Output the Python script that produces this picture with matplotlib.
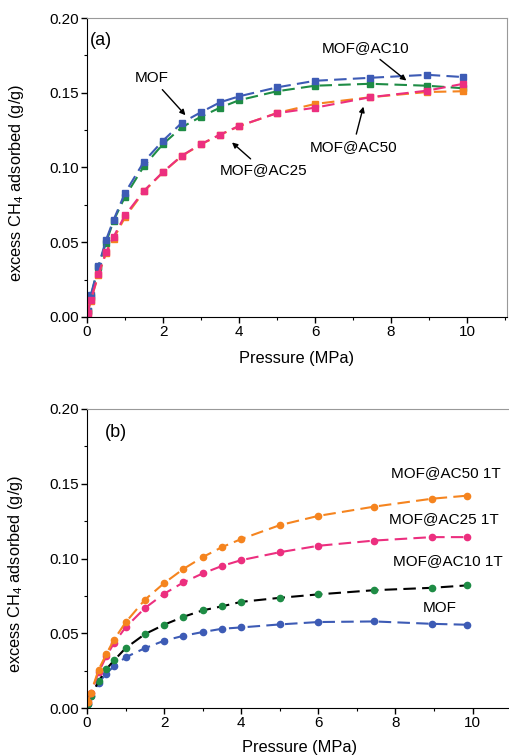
import matplotlib
matplotlib.use('Agg')
import matplotlib.pyplot as plt
from matplotlib.ticker import MultipleLocator

plt.rcParams.update({
    'font.family': ['Liberation Sans', 'DejaVu Sans'],
    'font.size': 11,
    'mathtext.fontset': 'custom',
    'mathtext.rm': 'Liberation Sans',
})

# ── data: panel (a) ──
P_A = [0.02, 0.1, 0.3, 0.5, 0.7, 1.0, 1.5, 2.0, 2.5, 3.0, 3.5, 4.0, 5.0, 6.0, 7.45, 8.95, 9.9]
MOF_A   = [0.004, 0.0147, 0.034, 0.0515, 0.065, 0.083, 0.104, 0.118, 0.130, 0.137, 0.1436, 0.1476, 0.1536, 0.158, 0.160, 0.162, 0.1605]
AC10_A  = [0.004, 0.0136, 0.0337, 0.0497, 0.0644, 0.0805, 0.101, 0.1157, 0.127, 0.134, 0.140, 0.145, 0.151, 0.1547, 0.156, 0.1547, 0.153]
AC25_A  = [0.003, 0.0114, 0.0288, 0.0433, 0.0537, 0.068, 0.0845, 0.097, 0.108, 0.1157, 0.122, 0.1278, 0.1363, 0.140, 0.147, 0.1514, 0.156]
AC50_A  = [0.003, 0.0110, 0.0280, 0.0425, 0.0524, 0.0667, 0.084, 0.0968, 0.1078, 0.1155, 0.1218, 0.1276, 0.1365, 0.1425, 0.147, 0.1505, 0.151]

# ── data: panel (b) ──
P_B = [0.02, 0.1, 0.3, 0.5, 0.7, 1.0, 1.5, 2.0, 2.5, 3.0, 3.5, 4.0, 5.0, 6.0, 7.45, 8.95, 9.85]
AC50_B = [0.004, 0.010, 0.0256, 0.036, 0.0457, 0.0572, 0.0724, 0.0835, 0.093, 0.1009, 0.1076, 0.113, 0.1223, 0.1285, 0.1347, 0.140, 0.142]
AC25_B = [0.004, 0.010, 0.0238, 0.0345, 0.0434, 0.0539, 0.0668, 0.0764, 0.084, 0.090, 0.095, 0.0989, 0.1042, 0.1085, 0.112, 0.1143, 0.1143]
AC10_B = [0.003, 0.0082, 0.0178, 0.026, 0.0318, 0.040, 0.0494, 0.0557, 0.061, 0.0653, 0.068, 0.071, 0.0737, 0.076, 0.0788, 0.0804, 0.082]
MOF_B  = [0.003, 0.0078, 0.0167, 0.023, 0.028, 0.0339, 0.040, 0.045, 0.0483, 0.0508, 0.053, 0.0539, 0.0559, 0.0575, 0.0579, 0.0563, 0.0557]

BLUE = '#3d5bb5'
GREEN = '#1e8c45'
PINK = '#ec2f7f'
ORANGE = '#f5841f'
DASH = (0, (6, 3))
LBL = 11.8

fig = plt.figure(figsize=(5.10, 7.55), dpi=100)
ax1 = fig.add_axes([87/510, 1-317/755, 420/510, 299/755])
ax2 = fig.add_axes([87/510, 1-708/755, 426/510, 299/755])


def style(ax):
    ax.set_xlim(0, 11.05)
    ax.set_ylim(0, 0.20)
    ax.xaxis.set_major_locator(MultipleLocator(2))
    ax.xaxis.set_minor_locator(MultipleLocator(1))
    ax.yaxis.set_major_locator(MultipleLocator(0.05))
    ax.yaxis.set_minor_locator(MultipleLocator(0.025))
    ax.yaxis.set_major_formatter(lambda v, p: f'{v:.2f}')
    ax.tick_params(which='major', direction='out', length=4, width=1, labelsize=11, pad=2)
    ax.tick_params(which='minor', direction='out', length=2.5, width=0.8)
    for s in ['top', 'right']:
        ax.spines[s].set_color('#999999')
    ax.set_xlabel('Pressure (MPa)', fontsize=LBL)
    ax.set_ylabel('excess CH$_4$ adsorbed (g/g)', fontsize=LBL)
    ax.yaxis.set_label_coords(-0.145, 0.448)


# ── (a) ──
for y, c in [(AC10_A, GREEN), (MOF_A, BLUE), (AC50_A, ORANGE), (AC25_A, PINK)]:
    ax1.plot(P_A, y, color=c, ls=DASH, lw=1.5, marker='s', ms=4, mec=c, mfc=c)
style(ax1)
ax1.xaxis.set_label_coords(0.5, -0.115)
ax1.text(0.36, 0.185, '(a)', fontsize=13, ha='center', va='center')
arr = dict(arrowstyle='-|>', color='black', lw=1, mutation_scale=8)
ax1.annotate('MOF', xy=(2.64, 0.1336), xytext=(1.7, 0.160), ha='center', va='center',
             fontsize=11, arrowprops=arr)
ax1.annotate('MOF@AC10', xy=(8.46, 0.157), xytext=(7.33, 0.180), ha='center', va='center',
             fontsize=11, arrowprops=arr)
ax1.annotate('MOF@AC25', xy=(3.76, 0.118), xytext=(4.65, 0.098), ha='center', va='center',
             fontsize=11, arrowprops=arr)
ax1.annotate('MOF@AC50', xy=(7.29, 0.1425), xytext=(7.0, 0.114), ha='center', va='center',
             fontsize=11, arrowprops=arr)

# ── (b) ──
ax2.plot(P_B, MOF_B, color=BLUE, ls=DASH, lw=1.5, marker='o', ms=4.5, mec=BLUE, mfc=BLUE)
ax2.plot(P_B, AC10_B, color='black', ls=DASH, lw=1.5, marker='o', ms=4.5, mec=GREEN, mfc=GREEN)
ax2.plot(P_B, AC25_B, color=PINK, ls=DASH, lw=1.5, marker='o', ms=4.5, mec=PINK, mfc=PINK)
ax2.plot(P_B, AC50_B, color=ORANGE, ls=DASH, lw=1.5, marker='o', ms=4.5, mec=ORANGE, mfc=ORANGE)
style(ax2)
ax2.spines['right'].set_visible(False)
ax2.xaxis.set_label_coords(0.5, -0.107)
ax2.text(0.76, 0.184, '(b)', fontsize=13, ha='center', va='center')
ax2.text(10.73, 0.157, 'MOF@AC50 1T', fontsize=11, ha='right', va='center')
ax2.text(10.67, 0.1263, 'MOF@AC25 1T', fontsize=11, ha='right', va='center')
ax2.text(10.78, 0.098, 'MOF@AC10 1T', fontsize=11, ha='right', va='center')
ax2.text(9.15, 0.0668, 'MOF', fontsize=11, ha='center', va='center')

fig.savefig('out.png', dpi=100, facecolor='white')
